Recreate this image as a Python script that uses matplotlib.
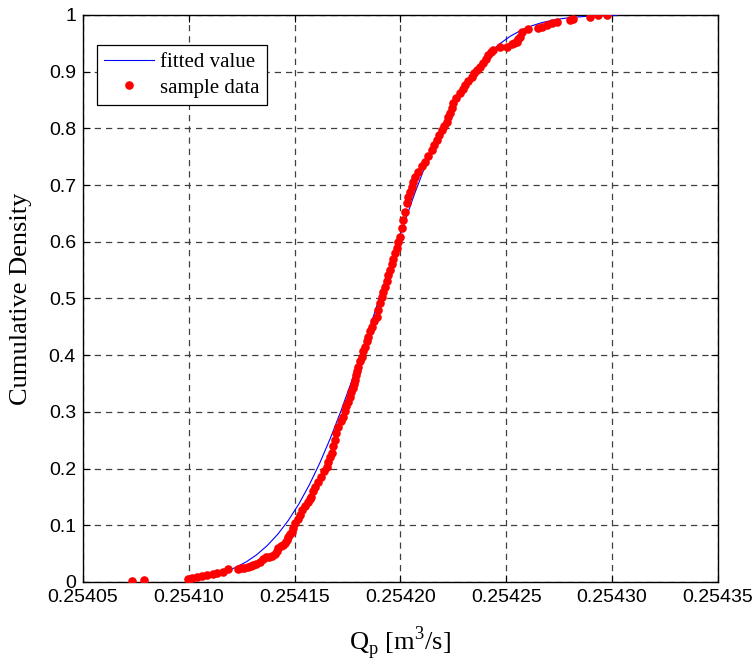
import matplotlib
matplotlib.use("Agg")
import matplotlib.pyplot as plt
from matplotlib.ticker import FuncFormatter

# fitted CDF
fit_q = [0.254102, 0.254107, 0.254112, 0.254117, 0.254122, 0.254127, 0.254132,
         0.254137, 0.254142, 0.254147, 0.254152, 0.254157, 0.254162, 0.254167,
         0.254172, 0.254177, 0.254182, 0.254187, 0.254192, 0.254197, 0.254202,
         0.254207, 0.254212, 0.254217, 0.254222, 0.254227, 0.254232, 0.254237,
         0.254242, 0.254247, 0.254252, 0.254257, 0.254262, 0.254267, 0.254272,
         0.254277, 0.254282, 0.254287, 0.254292, 0.254297, 0.254302]
fit_cdf = [0.0057, 0.0085, 0.0125, 0.0180, 0.0254, 0.0351, 0.0478, 0.0639, 0.0839,
           0.1083, 0.1374, 0.1715, 0.2105, 0.2543, 0.3025, 0.3543, 0.4091, 0.4657,
           0.5229, 0.5797, 0.6349, 0.6874, 0.7363, 0.7811, 0.8211, 0.8562, 0.8863,
           0.9116, 0.9324, 0.9493, 0.9626, 0.9729, 0.9807, 0.9866, 0.9908, 0.9938,
           0.9959, 0.9973, 0.9983, 0.9989, 0.9994]

sample_q = [0.2540730, 0.2540790, 0.2540998, 0.2541014, 0.2541037, 0.2541064, 0.2541086,
            0.2541113, 0.2541132, 0.2541160, 0.2541187, 0.2541234, 0.2541247, 0.2541262,
            0.2541281, 0.2541294, 0.2541305, 0.2541320, 0.2541337, 0.2541352, 0.2541365,
            0.2541379, 0.2541393, 0.2541407, 0.2541417, 0.2541423, 0.2541436, 0.2541445,
            0.2541455, 0.2541462, 0.2541470, 0.2541478, 0.2541486, 0.2541494, 0.2541502,
            0.2541514, 0.2541526, 0.2541535, 0.2541549, 0.2541565, 0.2541573, 0.2541578,
            0.2541587, 0.2541596, 0.2541611, 0.2541625, 0.2541639, 0.2541652, 0.2541660,
            0.2541667, 0.2541675, 0.2541683, 0.2541691, 0.2541698, 0.2541707, 0.2541719,
            0.2541730, 0.2541738, 0.2541745, 0.2541754, 0.2541762, 0.2541769, 0.2541776,
            0.2541781, 0.2541785, 0.2541790, 0.2541796, 0.2541801, 0.2541809, 0.2541817,
            0.2541825, 0.2541833, 0.2541841, 0.2541848, 0.2541856, 0.2541864, 0.2541877,
            0.2541888, 0.2541896, 0.2541904, 0.2541912, 0.2541919, 0.2541927, 0.2541935,
            0.2541943, 0.2541951, 0.2541959, 0.2541966, 0.2541975, 0.2541983, 0.2541990,
            0.2541998, 0.2542006, 0.2542014, 0.2542022, 0.2542030, 0.2542037, 0.2542045,
            0.2542053, 0.2542062, 0.2542071, 0.2542085, 0.2542100, 0.2542116, 0.2542132,
            0.2542148, 0.2542159, 0.2542172, 0.2542182, 0.2542195, 0.2542206, 0.2542219,
            0.2542226, 0.2542234, 0.2542242, 0.2542250, 0.2542265, 0.2542282, 0.2542294,
            0.2542305, 0.2542321, 0.2542337, 0.2542348, 0.2542361, 0.2542376, 0.2542392,
            0.2542403, 0.2542415, 0.2542427, 0.2542439, 0.2542471, 0.2542502, 0.2542526,
            0.2542537, 0.2542550, 0.2542558, 0.2542565, 0.2542573, 0.2542604, 0.2542652,
            0.2542668, 0.2542691, 0.2542715, 0.2542739, 0.2542802, 0.2542817, 0.2542896,
            0.2542935, 0.2542978]
sample_cdf = [0.001, 0.003, 0.0048, 0.0065, 0.0088, 0.0111, 0.0123,
              0.0136, 0.0153, 0.0176, 0.0224, 0.0229, 0.0242, 0.0252,
              0.0270, 0.0282, 0.0300, 0.0326, 0.0353, 0.0400, 0.0432,
              0.0441, 0.0453, 0.0494, 0.0547, 0.0594, 0.0626, 0.0653,
              0.0683, 0.0741, 0.0799, 0.0847, 0.0887, 0.0961, 0.1035,
              0.1111, 0.1182, 0.1270, 0.1340, 0.1416, 0.1464, 0.1504,
              0.1596, 0.1681, 0.1772, 0.1857, 0.1949, 0.2034, 0.2116,
              0.2196, 0.2270, 0.2390, 0.2504, 0.2619, 0.2739, 0.2831,
              0.2915, 0.3007, 0.3095, 0.3183, 0.3268, 0.3342, 0.3422,
              0.3492, 0.3563, 0.3642, 0.3721, 0.3797, 0.3889, 0.3974,
              0.4065, 0.4150, 0.4242, 0.4326, 0.4418, 0.4503, 0.4594,
              0.4679, 0.4797, 0.4915, 0.5018, 0.5120, 0.5208, 0.5309,
              0.5406, 0.5503, 0.5600, 0.5697, 0.5797, 0.5896, 0.5996,
              0.6090, 0.6238, 0.6384, 0.6531, 0.6679, 0.6781, 0.6878,
              0.6972, 0.7055, 0.7134, 0.7231, 0.7337, 0.7413, 0.7513,
              0.7619, 0.7707, 0.7795, 0.7884, 0.7972, 0.8042, 0.8118,
              0.8192, 0.8266, 0.8354, 0.8443, 0.8531, 0.8619, 0.8695,
              0.8765, 0.8836, 0.8912, 0.8972, 0.9030, 0.9088, 0.9148,
              0.9224, 0.9295, 0.9339, 0.9383, 0.9430, 0.9441, 0.9483,
              0.9506, 0.9529, 0.9577, 0.9617, 0.9705, 0.9748, 0.9776,
              0.9794, 0.9824, 0.9853, 0.9882, 0.9912, 0.9924, 0.9959,
              0.9991, 1.0]

x_ticks = [0.25405, 0.25410, 0.25415, 0.25420, 0.25425, 0.25430, 0.25435]
y_ticks = [0, 0.1, 0.2, 0.3, 0.4, 0.5, 0.6, 0.7, 0.8, 0.9, 1]

plt.rcParams["font.family"] = ["Liberation Sans", "DejaVu Sans"]

fig = plt.figure(figsize=(7.54, 6.64), dpi=100)
ax = fig.add_axes([0.110, 0.1235, 0.842, 0.854])

ax.plot(fit_q, fit_cdf, color="#0000ff", lw=0.8, label="fitted value", zorder=3)
ax.plot(sample_q, sample_cdf, ls="none", marker="o", ms=6.2, mec="none",
        color="#ff0000", label="sample data", zorder=4)

ax.set_xlim(0.25405, 0.25435)
ax.set_ylim(0, 1)
ax.set_xticks(x_ticks)
ax.set_yticks(y_ticks)
ax.xaxis.set_major_formatter(FuncFormatter(lambda v, p: f"{v:.5f}"))
ax.yaxis.set_major_formatter(FuncFormatter(lambda v, p: f"{v:g}"))
ax.tick_params(direction="in", length=5, width=0.8, labelsize=14,
               top=True, right=True, pad=5)

ax.grid(True, color="0.25", ls=(0, (5, 4)), lw=0.9)
for s in ax.spines.values():
    s.set_linewidth(1.0)
    s.set_color("black")

ax.set_xlabel("Q$_\\mathregular{p}$ [m$^\\mathregular{3}$/s]", family="Liberation Serif",
              fontsize=19, labelpad=13)
ax.set_ylabel("Cumulative Density", family="Liberation Serif", fontsize=19, labelpad=12)

leg = ax.legend(loc="upper left", bbox_to_anchor=(0.022, 0.947), borderaxespad=0,
                prop={"family": "Liberation Serif", "size": 15}, fancybox=False,
                framealpha=1, edgecolor="black", handlelength=2.4,
                handletextpad=0.3, labelspacing=0.3, borderpad=0.35)
leg.get_frame().set_linewidth(0.9)

fig.savefig("out.png", dpi=100)
